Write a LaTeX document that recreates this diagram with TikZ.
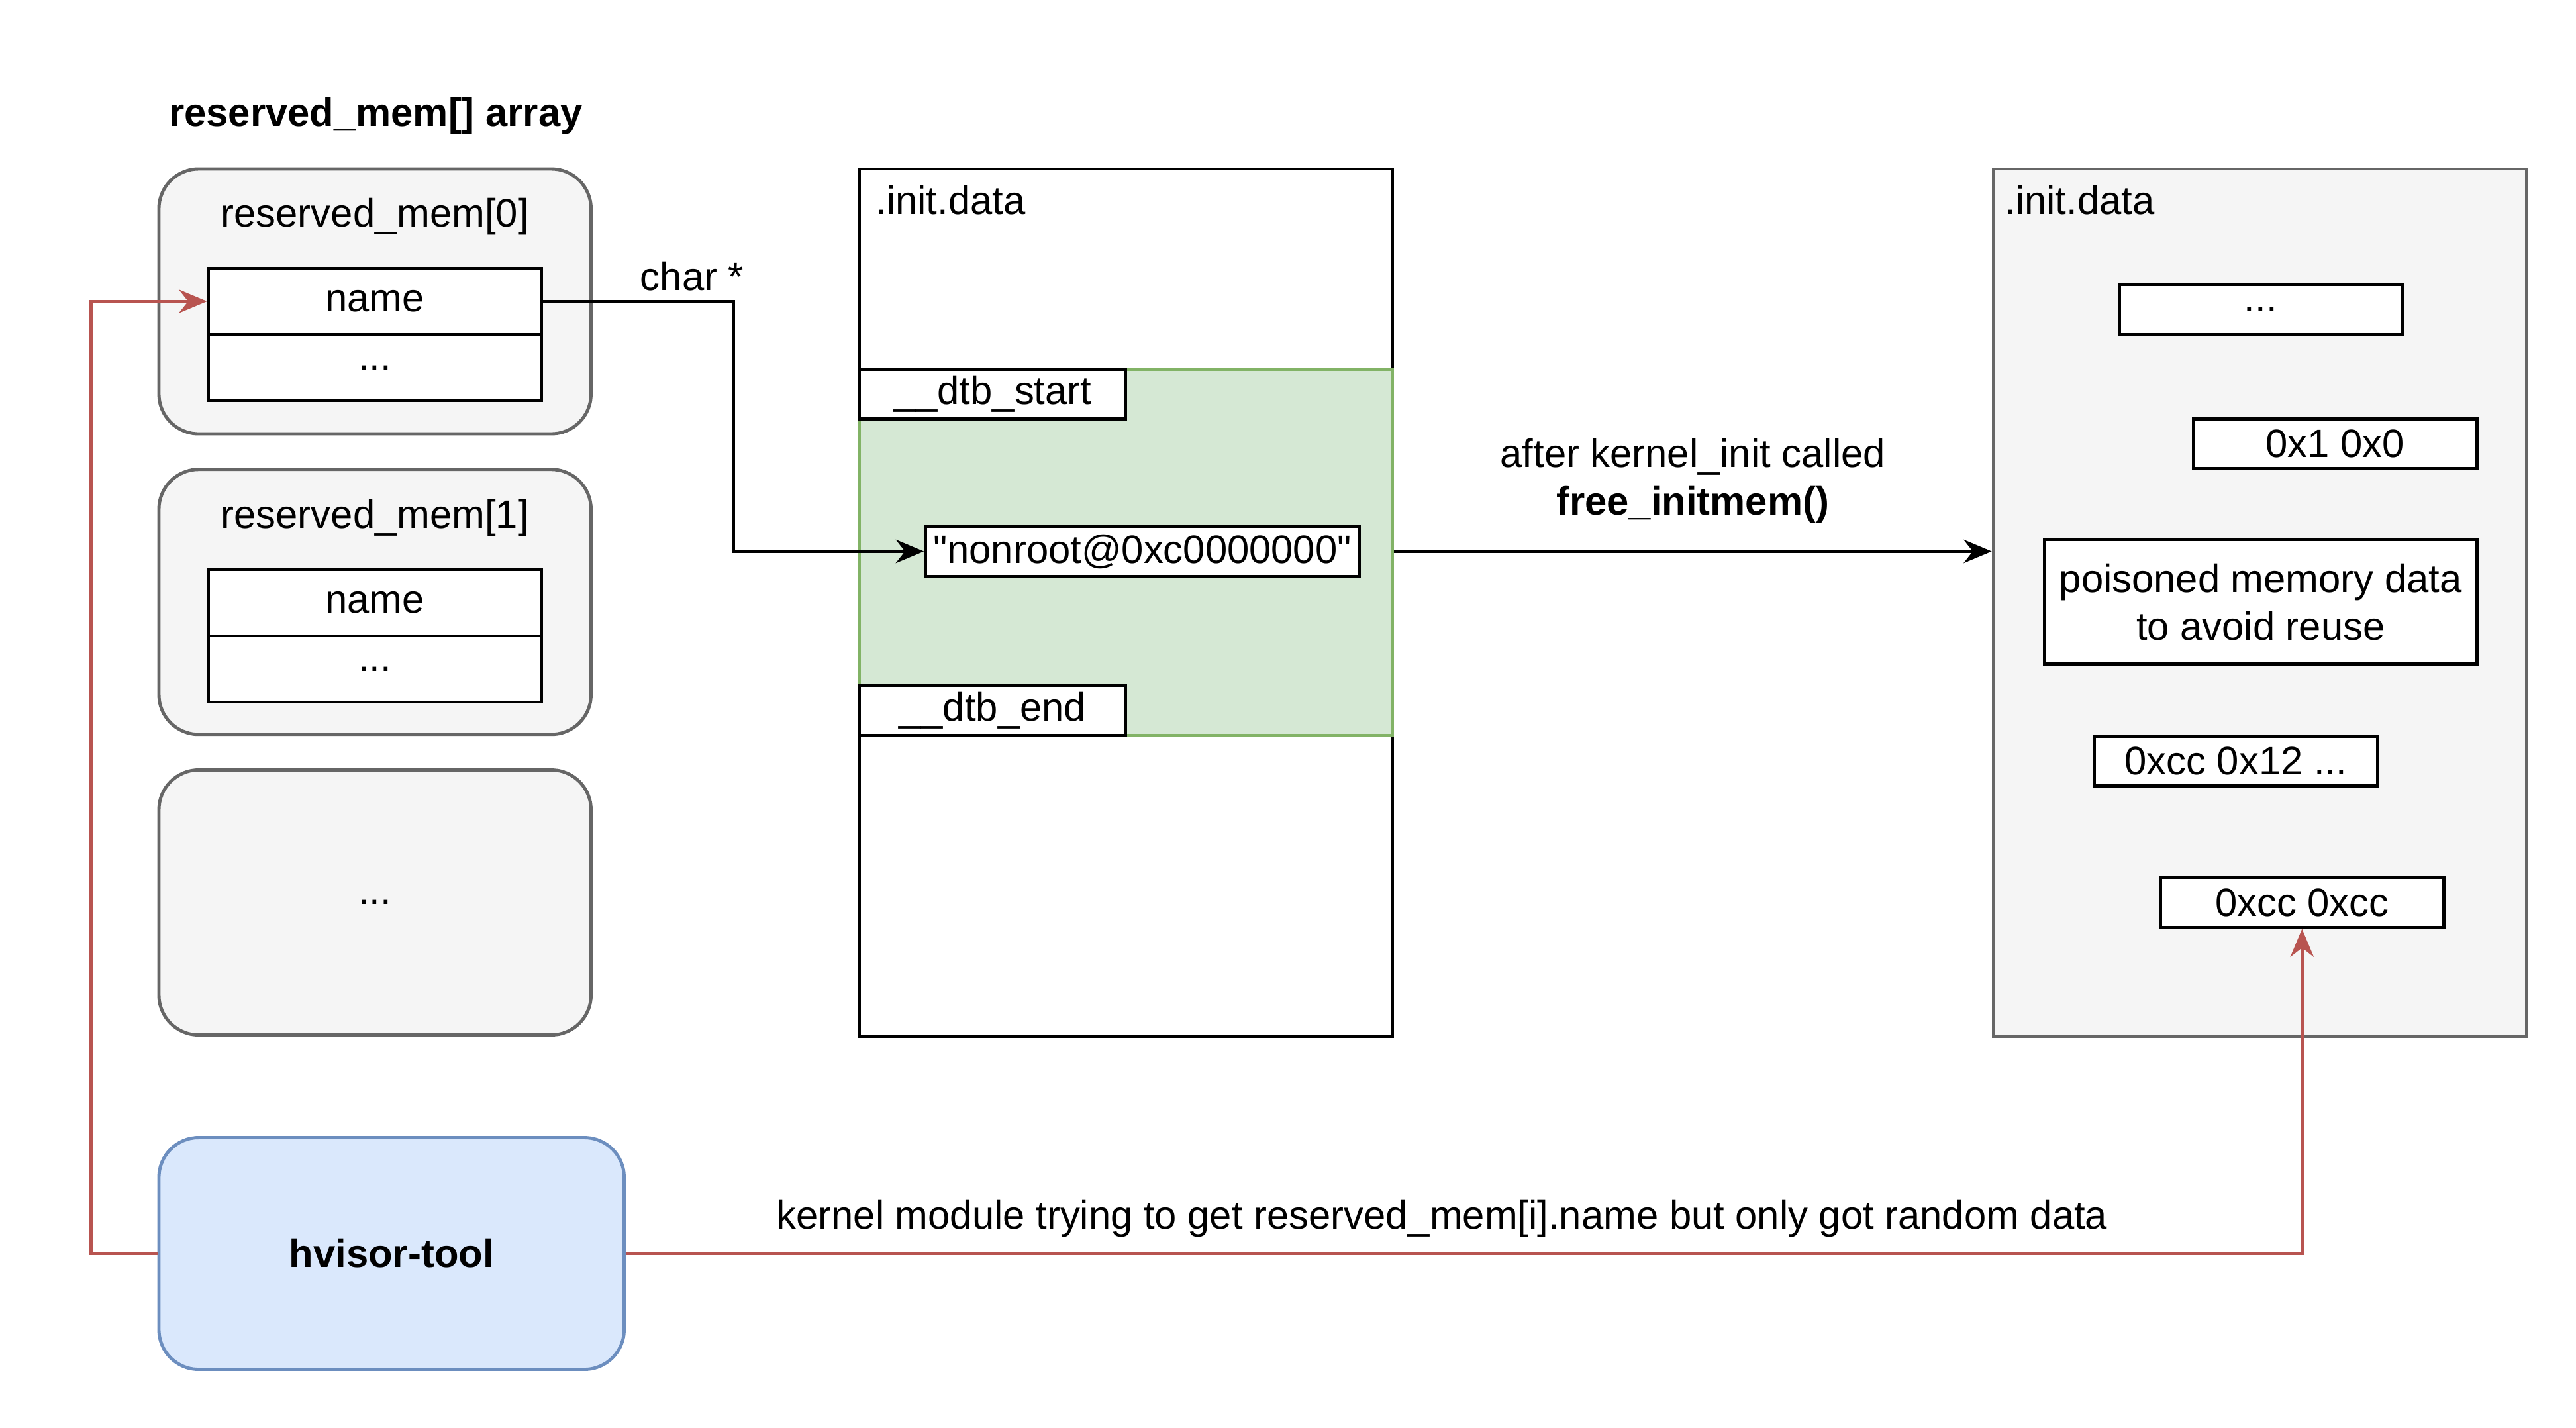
\documentclass[tikz,border=0pt]{standalone}
\usepackage{fontspec}
\setmainfont{Liberation Sans}
\usetikzlibrary{arrows.meta}

\definecolor{boxgray}{HTML}{F5F5F5}
\definecolor{linegray}{HTML}{666666}
\definecolor{toolblue}{HTML}{DAE8FC}
\definecolor{toolline}{HTML}{6C8EBF}
\definecolor{dtbgreen}{HTML}{D5E8D4}
\definecolor{dtbline}{HTML}{82B366}
\definecolor{linkred}{HTML}{B85450}

\tikzset{
    cell/.style = {draw, fill=white, rectangle, inner sep=0pt},
    group/.style = {draw=linegray, fill=boxgray, rounded corners=0.6cm, inner sep=0pt},
    arr/.style = {-{Stealth[length=12pt, width=10pt]}},
}

\begin{document}
\begin{tikzpicture}[x=0.025cm, y=-0.025cm, line width = 1.4pt,
    every node/.style = {font=\fontsize{17}{20.5}\selectfont}]

        \useasboundingbox (0, 0) rectangle (1556, 862);

        % Title and the three array entries.
        \node (title) at (227, 70) {\textbf{reserved\_mem[] array}};
        \node[group, minimum width=261*0.025cm, minimum height=160*0.025cm] (rm0) at (226.5, 182) {};
        \node (rm0lbl) at (226.5, 131) {reserved\_mem[0]};
        \node[cell, minimum width=201*0.025cm, minimum height=40*0.025cm] (name0) at (226.5, 182) {name};
        \node[cell, minimum width=201*0.025cm, minimum height=40*0.025cm] (dots0) at (226.5, 222) {...};

        \node[group, minimum width=261*0.025cm, minimum height=160*0.025cm] (rm1) at (226.5, 363.5) {};
        \node (rm1lbl) at (226.5, 313) {reserved\_mem[1]};
        \node[cell, minimum width=201*0.025cm, minimum height=40*0.025cm] (name1) at (226.5, 364) {name};
        \node[cell, minimum width=201*0.025cm, minimum height=40*0.025cm] (dots1) at (226.5, 404) {...};

        \node[group, minimum width=261*0.025cm, minimum height=160*0.025cm] (rm2) at (226.5, 545) {...};

        % The tool box.
        \node[group, draw=toolline, fill=toolblue, minimum width=281*0.025cm, minimum height=140*0.025cm] (tool) at (236.5, 757) {\textbf{hvisor-tool}};

        % Init data section before free_initmem().
        \node[cell, minimum width=322*0.025cm, minimum height=524*0.025cm] (before) at (680, 364) {};
        \node[anchor=west, inner sep=0pt] (beforelbl) at (528, 121) {.init.data};
        \node[draw=dtbline, fill=dtbgreen, minimum width=322*0.025cm, minimum height=221*0.025cm, inner sep=0pt] (dtb) at (680, 333.5) {};
        \node[cell, minimum width=161*0.025cm, minimum height=30*0.025cm] (dtbstart) at (599.5, 238) {\_\_dtb\_start};
        \node[cell, minimum width=161*0.025cm, minimum height=30*0.025cm] (dtbend) at (599.5, 429) {\_\_dtb\_end};
        \node[cell, minimum width=262*0.025cm, minimum height=30*0.025cm] (str) at (690, 333) {\textquotedbl nonroot@0xc0000000\textquotedbl};

        % Init data section after free_initmem().
        \node[draw=linegray, fill=boxgray, minimum width=322*0.025cm, minimum height=524*0.025cm, inner sep=0pt] (after) at (1365, 364) {};
        \node[anchor=west, inner sep=0pt] (afterlbl) at (1210, 121) {.init.data};
        \node[cell, minimum width=171*0.025cm, minimum height=30*0.025cm] (poison1) at (1365.5, 187) {...};
        \node[cell, minimum width=171*0.025cm, minimum height=30*0.025cm] (poison2) at (1410.5, 268) {0x1 0x0};
        \node[cell, minimum width=261*0.025cm, minimum height=75*0.025cm, align=center] (poison3) at (1365.5, 363.5) {poisoned memory data\\to avoid reuse};
        \node[cell, minimum width=171*0.025cm, minimum height=30*0.025cm] (poison4) at (1350.5, 459.5) {0xcc 0x12 ...};
        \node[cell, minimum width=171*0.025cm, minimum height=30*0.025cm] (poison5) at (1390.5, 545) {0xcc 0xcc};

        % Pointer from name to the string.
        \coordinate (charbend) at (443, 182);
        \draw[arr] (name0.east) -- (charbend) |- (str.west);
        \node (charlbl) at (418, 167) {char *};

        % free_initmem() step.
        \draw[arr] (before.east |- str) -- node[above=8pt, align=center] {after kernel\_init called\\\textbf{free\_initmem()}} (after.west |- str);

        % Red links from the tool.
        \coordinate (toolleft) at (55, 757);
        \draw[arr, linkred] (tool.west) -- (toolleft) |- (name0.west);
        \draw[arr, linkred] (tool.east) -| (poison5.south);
        \node (toollbl) at (871, 736) {kernel module trying to get reserved\_mem[i].name but only got random data};
    \end{tikzpicture}
\end{document}
